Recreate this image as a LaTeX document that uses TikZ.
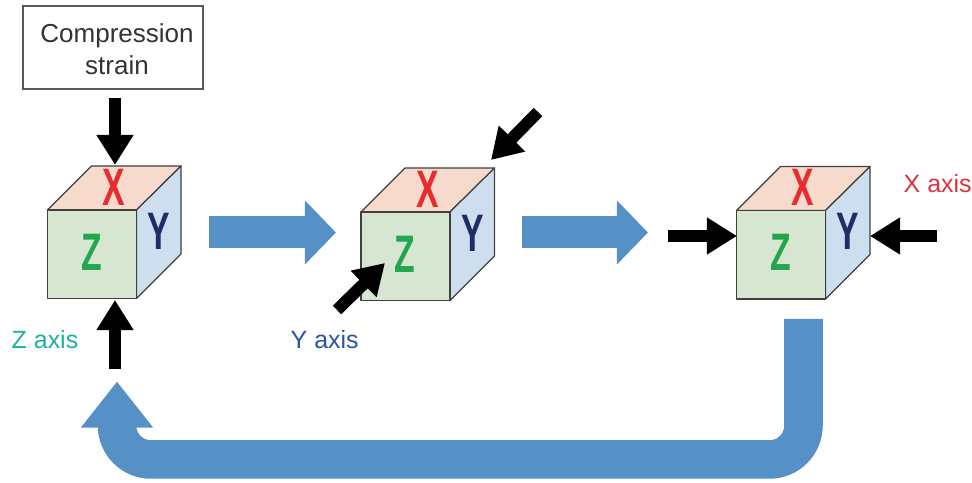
\documentclass[tikz,border=0pt]{standalone}
\usepackage{fontspec}
\setmainfont{Liberation Sans}
\usepackage{tikz}
\usetikzlibrary{arrows.meta}

\definecolor{topface}{HTML}{F6DACC}
\definecolor{frontface}{HTML}{D6E6D0}
\definecolor{sideface}{HTML}{CDDEEE}
\definecolor{flowblue}{HTML}{5590C6}
\definecolor{redX}{HTML}{EA2A2E}
\definecolor{greenZ}{HTML}{22A650}
\definecolor{navyY}{HTML}{232B66}

\newcommand{\cubeletter}[1]{\scalebox{0.64}[1]{#1}}

\tikzset{
	face/.style={draw=black!75, line width=0.35pt, line join=round},
	letter/.style={inner sep=0pt, font=\bfseries\fontsize{15}{15}\selectfont},
	axis/.style={anchor=base west, inner sep=0pt, font=\fontsize{7.1}{9.1}\selectfont},
	strainarrow/.style={line width=0.12cm, -{Triangle[width=0.35cm,length=0.30cm]}},
	flowarrow/.style={flowblue, line width=0.32cm, -{Triangle[width=0.62cm,length=0.31cm]}}
}

\begin{document}
\begin{tikzpicture}[x=0.01cm,y=-0.01cm]
	\useasboundingbox (0,0) rectangle (972,483);

	%cubes
	\foreach \name/\cx/\cy in {A/47.5/210, B/361/212, C/736.5/210.5}{
		\begin{scope}[shift={(\cx,\cy)}]
			\draw[face,fill=topface] (0,0)--(44,-44)--(133.5,-44)--(89,0)--cycle;
			\draw[face,fill=sideface] (89,0)--(133.5,-44)--(133.5,44)--(89,88.5)--cycle;
			\draw[face,fill=frontface] (0,0) rectangle (89,88.5);
			\node[letter,text=redX] (x\name) at (66.5,-23) {\cubeletter{X}};
			\node[letter,text=navyY] (y\name) at (111.5,21) {\cubeletter{Y}};
			\node[letter,text=greenZ] (z\name) at (44,42) {\cubeletter{Z}};
		\end{scope}
	}

	%strain box
	\node[draw=black!65, line width=0.35pt, minimum width=1.80cm, minimum height=0.83cm, inner sep=0pt,
		align=center, text=black!80, font=\fontsize{7.4}{9.1}\selectfont] (comp) at (113,47.5)
		{\rule{0pt}{0.23cm}\hspace*{0.08cm}Compression\\\hspace*{0.08cm}strain};

	%axis names
	\node[axis,text={rgb,255:red,26;green,178;blue,163}] (zaxis) at (11,348.5) {Z axis};
	\node[axis,text={rgb,255:red,42;green,85;blue,165}] (yaxis) at (290,348.5) {Y axis};
	\node[axis,text={rgb,255:red,224;green,50;blue,60}] (xaxis) at (903,192.5) {X axis};

	%strain arrows
	\coordinate (zdowntail) at (115,98);
	\coordinate (zdowntip) at (115,165);
	\coordinate (zuptail) at (115,369);
	\coordinate (zuptip) at (115,300);
	\coordinate (ydowntail) at (538,112);
	\coordinate (ydowntip) at (491,160);
	\coordinate (yuptail) at (337,310);
	\coordinate (yuptip) at (385,263);
	\coordinate (xlefttail) at (668,236);
	\coordinate (xlefttip) at (737,236);
	\coordinate (xrighttail) at (937,236);
	\coordinate (xrighttip) at (870,236);
	\foreach \tail/\tip in {zdowntail/zdowntip, zuptail/zuptip, ydowntail/ydowntip,
		yuptail/yuptip, xlefttail/xlefttip, xrighttail/xrighttip}
		\draw[strainarrow] (\tail)--(\tip);

	%flow arrows
	\coordinate (ontail) at (209,232.5);
	\coordinate (onhead) at (336,232.5);
	\coordinate (nexttail) at (521.5,232.5);
	\coordinate (nexthead) at (648,232.5);
	\draw[flowarrow] (ontail)--(onhead);
	\draw[flowarrow] (nexttail)--(nexthead);

	%way back
	\coordinate (backtail) at (803.5,319);
	\coordinate (backlow) at (803.5,459.5);
	\coordinate (backleft) at (117,459.5);
	\coordinate (backhead) at (117,381.5);
	\draw[flowblue, line width=0.385cm, rounded corners=0.34cm, -{Triangle[width=0.69cm,length=0.46cm]}]
		(backtail)--(backlow)--(backleft)--(backhead);
\end{tikzpicture}
\end{document}
